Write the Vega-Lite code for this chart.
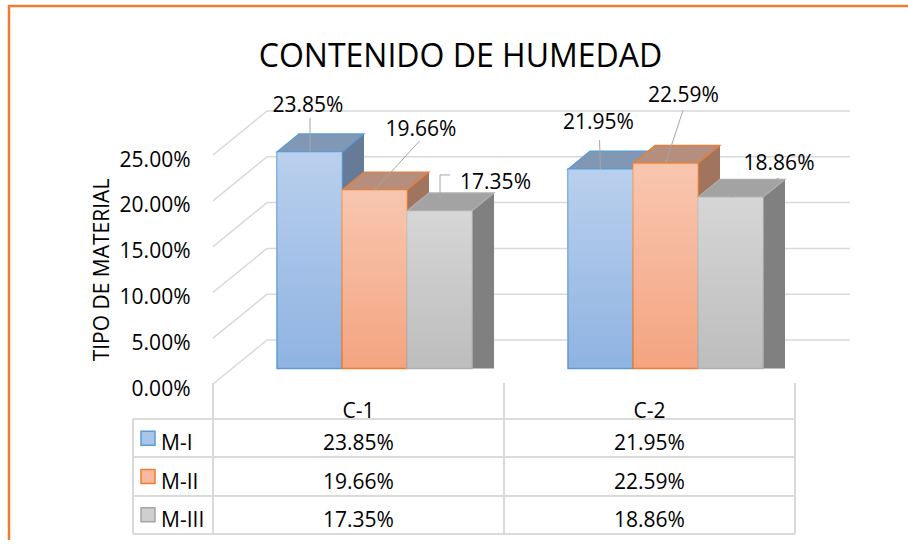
{
  "$schema": "https://vega.github.io/schema/vega-lite/v6.json",
  "autosize": {"type": "none"},
  "padding": {"left": 9, "top": 6, "right": -12, "bottom": -21},
  "width": 911,
  "height": 555,
  "background": "white",
  "config": {
    "view": {"stroke": "#ED7D31", "strokeWidth": 2.5, "fill": "white"},
    "font": "Open Sans",
    "text": {"font": "Open Sans"},
    "legend": {"disable": true}
  },
  "title": {
    "text": "CONTENIDO DE HUMEDAD",
    "font": "Open Sans",
    "fontSize": 32,
    "fontWeight": "normal",
    "color": "#000000",
    "anchor": "middle",
    "frame": "group",
    "baseline": "alphabetic",
    "dx": -4,
    "offset": -93
  },
  "datasets": {
    "moisture": [
      {"cat": "C-1", "series": "M-I", "value": 0.2385},
      {"cat": "C-1", "series": "M-II", "value": 0.1966},
      {"cat": "C-1", "series": "M-III", "value": 0.1735},
      {"cat": "C-2", "series": "M-I", "value": 0.2195},
      {"cat": "C-2", "series": "M-II", "value": 0.2259},
      {"cat": "C-2", "series": "M-III", "value": 0.1886}
    ],
    "ticks": [
      {"tick": 0}, {"tick": 0.05}, {"tick": 0.1}, {"tick": 0.15}, {"tick": 0.2}, {"tick": 0.25}
    ]
  },
  "data": {"name": "moisture"},
  "layer": [
    {
      "data": {"name": "ticks"},
      "layer": [
        {
          "mark": {"type": "rule", "color": "#d9d9d9", "strokeWidth": 1.5, "x2Offset": 54, "y2Offset": -44},
          "encoding": {
            "x": {"datum": "C-1", "type": "nominal", "bandPosition": 0, "axis": null,
                  "scale": {"domain": ["C-1", "C-2"], "range": [204, 786], "paddingInner": 0, "paddingOuter": 0}},
            "x2": {"datum": "C-1", "bandPosition": 0},
            "y": {"field": "tick", "type": "quantitative",
                  "scale": {"domain": [0, 0.25], "range": [378, 149], "nice": false, "zero": true},
                  "axis": {
                    "orient": "left", "offset": -204, "domain": false, "ticks": false, "grid": false,
                    "values": [0, 0.05, 0.1, 0.15, 0.2, 0.25], "format": ".2%",
                    "labelFont": "Open Sans", "labelFontSize": 21, "labelColor": "#000000",
                    "labelPadding": 23, "labelOffset": 5,
                    "title": "TIPO DE MATERIAL", "titleFont": "Open Sans", "titleFontSize": 21,
                    "titleFontWeight": "normal", "titleColor": "#000000", "titlePadding": 7
                  }},
            "y2": {"field": "tick"}
          }
        },
        {
          "mark": {"type": "rule", "color": "#d9d9d9", "strokeWidth": 1.5, "xOffset": 54, "x2Offset": 55, "yOffset": -44},
          "encoding": {
            "x": {"datum": "C-1", "type": "nominal", "bandPosition": 0, "axis": null},
            "x2": {"datum": "C-2", "bandPosition": 1},
            "y": {"field": "tick", "type": "quantitative"}
          }
        }
      ]
    },
    {
      "layer": [
        {
          "mark": {"type": "bar", "yOffset": -18, "y2Offset": -18},
          "encoding": {
            "x": {"field": "cat", "type": "nominal", "axis": null,
                  "scale": {"domain": ["C-1", "C-2"], "range": [204, 786], "paddingInner": 0, "paddingOuter": 0}},
            "xOffset": {"field": "series", "type": "nominal",
                        "scale": {"domain": ["M-I", "M-II", "M-III"], "paddingInner": 0, "paddingOuter": 0.738, "align": 0.896}},
            "y": {"field": "value", "type": "quantitative", "stack": null, "axis": null,
                  "scale": {"domain": [0, 0.25], "range": [362.5, 135.5], "nice": false, "zero": true}},
            "fill": {"field": "series", "type": "nominal", "legend": null,
                     "scale": {"domain": ["M-I", "M-II", "M-III"], "range": ["#667b98", "#a1745f", "#808080"]}}
          }
        },
        {
          "layer": [
            {
              "mark": {"type": "point", "shape": "M 3.25 0 L 5.45 -1.8 L 3.25 -1.8 Z", "size": 400, "filled": true, "opacity": 1, "strokeWidth": 0},
              "encoding": {
                "x": {"field": "cat", "type": "nominal", "axis": null},
                "xOffset": {"field": "series", "type": "nominal"},
                "y": {"datum": 0, "type": "quantitative", "axis": null},
                "fill": {"field": "series", "type": "nominal", "legend": null,
                         "scale": {"domain": ["M-I", "M-II", "M-III"], "range": ["#667b98", "#a1745f", "#808080"]}}
              }
            },
            {
              "mark": {"type": "point", "shape": "M -3.25 0 L 3.25 0 L 5.45 -1.8 L -1.05 -1.8 Z", "size": 400, "filled": true, "opacity": 1, "strokeWidth": 1.2},
              "encoding": {
                "x": {"field": "cat", "type": "nominal", "axis": null},
                "xOffset": {"field": "series", "type": "nominal"},
                "y": {"field": "value", "type": "quantitative", "stack": null, "axis": null},
                "fill": {"field": "series", "type": "nominal", "legend": null,
                         "scale": {"domain": ["M-I", "M-II", "M-III"], "range": ["#8198b5", "#b68e7d", "#a3a3a3"]}},
                "stroke": {"field": "series", "type": "nominal", "legend": null,
                           "scale": {"domain": ["M-I", "M-II", "M-III"], "range": ["#5b9bd5", "#ed7d31", "#b0b0b0"]}}
              }
            },
            {
              "mark": {"type": "bar", "strokeWidth": 1.5},
              "encoding": {
                "x": {"field": "cat", "type": "nominal", "axis": null},
                "xOffset": {"field": "series", "type": "nominal",
                            "scale": {"domain": ["M-I", "M-II", "M-III"], "paddingInner": 0, "paddingOuter": 0.738, "align": 0.667}},
                "y": {"field": "value", "type": "quantitative", "stack": null, "axis": null,
                      "scale": {"domain": [0, 0.25], "range": [362.5, 135.5], "nice": false, "zero": true}},
                "fill": {"field": "series", "type": "nominal", "legend": null,
                         "scale": {"domain": ["M-I", "M-II", "M-III"], "range": ["#8fb3e2", "#f4a480", "#bdbdbd"]}},
                "stroke": {"field": "series", "type": "nominal", "legend": null}
              }
            },
            {
              "mark": {"type": "bar", "fill": {"gradient": "linear", "x1": 0, "y1": 0, "x2": 0, "y2": 1,
                        "stops": [{"offset": 0, "color": "rgba(255,255,255,0.38)"}, {"offset": 1, "color": "rgba(255,255,255,0)"}]}},
              "encoding": {
                "x": {"field": "cat", "type": "nominal", "axis": null},
                "xOffset": {"field": "series", "type": "nominal"},
                "y": {"field": "value", "type": "quantitative", "stack": null, "axis": null}
              }
            },
            {
              "transform": [{"filter": "datum.cat === 'C-1' && datum.series === 'M-I'"}],
              "layer": [
                {"mark": {"type": "point", "shape": "M 0.05 0 L 0.05 -3.4", "size": 400, "filled": false, "opacity": 1, "color": "#a6a6a6", "stroke": "#a6a6a6", "strokeWidth": 1},
                 "encoding": {"x": {"field": "cat", "type": "nominal", "axis": null}, "xOffset": {"field": "series", "type": "nominal"}, "y": {"field": "value", "type": "quantitative", "stack": null, "axis": null}}},
                {"mark": {"type": "text", "dx": -1.5, "dy": -46, "fontSize": 21, "font": "Open Sans", "color": "#000000", "baseline": "middle"},
                 "encoding": {"x": {"field": "cat", "type": "nominal", "axis": null}, "xOffset": {"field": "series", "type": "nominal"}, "y": {"field": "value", "type": "quantitative", "stack": null, "axis": null}, "text": {"field": "value", "type": "quantitative", "format": ".2%"}}}
              ]
            },
            {
              "transform": [{"filter": "datum.cat === 'C-1' && datum.series === 'M-II'"}],
              "layer": [
                {"mark": {"type": "point", "shape": "M 0 0 L 4.5 -4.9", "size": 400, "filled": false, "opacity": 1, "color": "#a6a6a6", "stroke": "#a6a6a6", "strokeWidth": 1},
                 "encoding": {"x": {"field": "cat", "type": "nominal", "axis": null}, "xOffset": {"field": "series", "type": "nominal"}, "y": {"field": "value", "type": "quantitative", "stack": null, "axis": null}}},
                {"mark": {"type": "text", "dx": 46.5, "dy": -60, "fontSize": 21, "font": "Open Sans", "color": "#000000", "baseline": "middle"},
                 "encoding": {"x": {"field": "cat", "type": "nominal", "axis": null}, "xOffset": {"field": "series", "type": "nominal"}, "y": {"field": "value", "type": "quantitative", "stack": null, "axis": null}, "text": {"field": "value", "type": "quantitative", "format": ".2%"}}}
              ]
            },
            {
              "transform": [{"filter": "datum.cat === 'C-1' && datum.series === 'M-III'"}],
              "layer": [
                {"mark": {"type": "point", "shape": "M 0.05 0 L 0.05 -3.6 L 1.05 -3.6", "size": 400, "filled": false, "opacity": 1, "color": "#a6a6a6", "stroke": "#a6a6a6", "strokeWidth": 1},
                 "encoding": {"x": {"field": "cat", "type": "nominal", "axis": null}, "xOffset": {"field": "series", "type": "nominal"}, "y": {"field": "value", "type": "quantitative", "stack": null, "axis": null}}},
                {"mark": {"type": "text", "dx": 56, "dy": -28, "fontSize": 21, "font": "Open Sans", "color": "#000000", "baseline": "middle"},
                 "encoding": {"x": {"field": "cat", "type": "nominal", "axis": null}, "xOffset": {"field": "series", "type": "nominal"}, "y": {"field": "value", "type": "quantitative", "stack": null, "axis": null}, "text": {"field": "value", "type": "quantitative", "format": ".2%"}}}
              ]
            },
            {
              "transform": [{"filter": "datum.cat === 'C-2' && datum.series === 'M-I'"}],
              "layer": [
                {"mark": {"type": "point", "shape": "M 0 0 L -0.1 -2.9", "size": 400, "filled": false, "opacity": 1, "color": "#a6a6a6", "stroke": "#a6a6a6", "strokeWidth": 1},
                 "encoding": {"x": {"field": "cat", "type": "nominal", "axis": null}, "xOffset": {"field": "series", "type": "nominal"}, "y": {"field": "value", "type": "quantitative", "stack": null, "axis": null}}},
                {"mark": {"type": "text", "dx": -2, "dy": -46, "fontSize": 21, "font": "Open Sans", "color": "#000000", "baseline": "middle"},
                 "encoding": {"x": {"field": "cat", "type": "nominal", "axis": null}, "xOffset": {"field": "series", "type": "nominal"}, "y": {"field": "value", "type": "quantitative", "stack": null, "axis": null}, "text": {"field": "value", "type": "quantitative", "format": ".2%"}}}
              ]
            },
            {
              "transform": [{"filter": "datum.cat === 'C-2' && datum.series === 'M-II'"}],
              "layer": [
                {"mark": {"type": "point", "shape": "M 0 0 L 1.75 -5.3", "size": 400, "filled": false, "opacity": 1, "color": "#a6a6a6", "stroke": "#a6a6a6", "strokeWidth": 1},
                 "encoding": {"x": {"field": "cat", "type": "nominal", "axis": null}, "xOffset": {"field": "series", "type": "nominal"}, "y": {"field": "value", "type": "quantitative", "stack": null, "axis": null}}},
                {"mark": {"type": "text", "dx": 18, "dy": -67.5, "fontSize": 21, "font": "Open Sans", "color": "#000000", "baseline": "middle"},
                 "encoding": {"x": {"field": "cat", "type": "nominal", "axis": null}, "xOffset": {"field": "series", "type": "nominal"}, "y": {"field": "value", "type": "quantitative", "stack": null, "axis": null}, "text": {"field": "value", "type": "quantitative", "format": ".2%"}}}
              ]
            },
            {
              "transform": [{"filter": "datum.cat === 'C-2' && datum.series === 'M-III'"}],
              "layer": [
                {"mark": {"type": "point", "shape": "M 0 0 L 4.85 -1.9", "size": 400, "filled": false, "opacity": 1, "color": "#a6a6a6", "stroke": "#a6a6a6", "strokeWidth": 1},
                 "encoding": {"x": {"field": "cat", "type": "nominal", "axis": null}, "xOffset": {"field": "series", "type": "nominal"}, "y": {"field": "value", "type": "quantitative", "stack": null, "axis": null}}},
                {"mark": {"type": "text", "dx": 48.5, "dy": -33, "fontSize": 21, "font": "Open Sans", "color": "#000000", "baseline": "middle"},
                 "encoding": {"x": {"field": "cat", "type": "nominal", "axis": null}, "xOffset": {"field": "series", "type": "nominal"}, "y": {"field": "value", "type": "quantitative", "stack": null, "axis": null}, "text": {"field": "value", "type": "quantitative", "format": ".2%"}}}
              ]
            }
          ],
          "resolve": {"scale": {"fill": "independent"}}
        }
      ],
      "resolve": {"scale": {"xOffset": "independent", "fill": "independent"}}
    },
    {
      "layer": [
        {
          "mark": {"type": "rule", "color": "#d9d9d9", "strokeWidth": 1.5, "xOffset": -80},
          "encoding": {
            "x": {"datum": "C-1", "type": "nominal", "bandPosition": 0, "axis": null},
            "x2": {"datum": "C-2", "bandPosition": 1},
            "y": {"field": "series", "type": "nominal", "bandPosition": 0, "axis": null,
                  "scale": {"domain": ["M-I", "M-II", "M-III"], "range": [413, 528], "paddingInner": 0, "paddingOuter": 0}}
          }
        },
        {
          "mark": {"type": "rule", "color": "#d9d9d9", "strokeWidth": 1.5, "xOffset": -80},
          "encoding": {
            "x": {"datum": "C-1", "type": "nominal", "bandPosition": 0, "axis": null},
            "x2": {"datum": "C-2", "bandPosition": 1},
            "y": {"field": "series", "type": "nominal", "bandPosition": 1, "axis": null}
          }
        },
        {
          "mark": {"type": "rule", "color": "#d9d9d9", "strokeWidth": 1.5, "yOffset": -36},
          "encoding": {
            "x": {"field": "cat", "type": "nominal", "bandPosition": 0, "axis": null},
            "y": {"datum": "M-I", "type": "nominal", "bandPosition": 0, "axis": null},
            "y2": {"datum": "M-III", "bandPosition": 1}
          }
        },
        {
          "mark": {"type": "rule", "color": "#d9d9d9", "strokeWidth": 1.5, "yOffset": -36},
          "encoding": {
            "x": {"field": "cat", "type": "nominal", "bandPosition": 1, "axis": null},
            "y": {"datum": "M-I", "type": "nominal", "bandPosition": 0, "axis": null},
            "y2": {"datum": "M-III", "bandPosition": 1}
          }
        },
        {
          "mark": {"type": "rule", "color": "#d9d9d9", "strokeWidth": 1.5, "xOffset": -80},
          "encoding": {
            "x": {"datum": "C-1", "type": "nominal", "bandPosition": 0, "axis": null},
            "y": {"datum": "M-I", "type": "nominal", "bandPosition": 0, "axis": null},
            "y2": {"datum": "M-III", "bandPosition": 1}
          }
        },
        {
          "transform": [{"filter": "datum.cat === 'C-1'"}],
          "mark": {"type": "point", "shape": "square", "size": 196, "filled": true, "opacity": 1, "strokeWidth": 1.5, "xOffset": -65},
          "encoding": {
            "x": {"datum": "C-1", "type": "nominal", "bandPosition": 0, "axis": null},
            "y": {"field": "series", "type": "nominal", "axis": null},
            "fill": {"field": "series", "type": "nominal", "legend": null,
                     "scale": {"domain": ["M-I", "M-II", "M-III"], "range": ["#a9c5ea", "#f8b99c", "#cfcfcf"]}},
            "stroke": {"field": "series", "type": "nominal", "legend": null,
                       "scale": {"domain": ["M-I", "M-II", "M-III"], "range": ["#5b9bd5", "#ed7d31", "#a5a5a5"]}}
          }
        },
        {
          "transform": [{"filter": "datum.cat === 'C-1'"}],
          "mark": {"type": "text", "align": "left", "baseline": "middle", "dx": -52, "dy": 6, "fontSize": 21, "font": "Open Sans", "color": "#000000"},
          "encoding": {
            "x": {"datum": "C-1", "type": "nominal", "bandPosition": 0, "axis": null},
            "y": {"field": "series", "type": "nominal", "axis": null},
            "text": {"field": "series", "type": "nominal"}
          }
        },
        {
          "transform": [{"filter": "datum.series === 'M-I'"}],
          "mark": {"type": "text", "align": "center", "baseline": "middle", "dy": -7, "fontSize": 21, "font": "Open Sans", "color": "#000000"},
          "encoding": {
            "x": {"field": "cat", "type": "nominal", "axis": null},
            "y": {"datum": "M-I", "type": "nominal", "bandPosition": 0, "axis": null},
            "text": {"field": "cat", "type": "nominal"}
          }
        },
        {
          "mark": {"type": "text", "align": "center", "baseline": "middle", "dy": 6, "fontSize": 21, "font": "Open Sans", "color": "#000000"},
          "encoding": {
            "x": {"field": "cat", "type": "nominal", "axis": null},
            "y": {"field": "series", "type": "nominal", "axis": null},
            "text": {"field": "value", "type": "quantitative", "format": ".2%"}
          }
        }
      ]
    }
  ],
  "resolve": {"scale": {"y": "independent", "fill": "independent", "stroke": "independent", "xOffset": "independent"}}
}
